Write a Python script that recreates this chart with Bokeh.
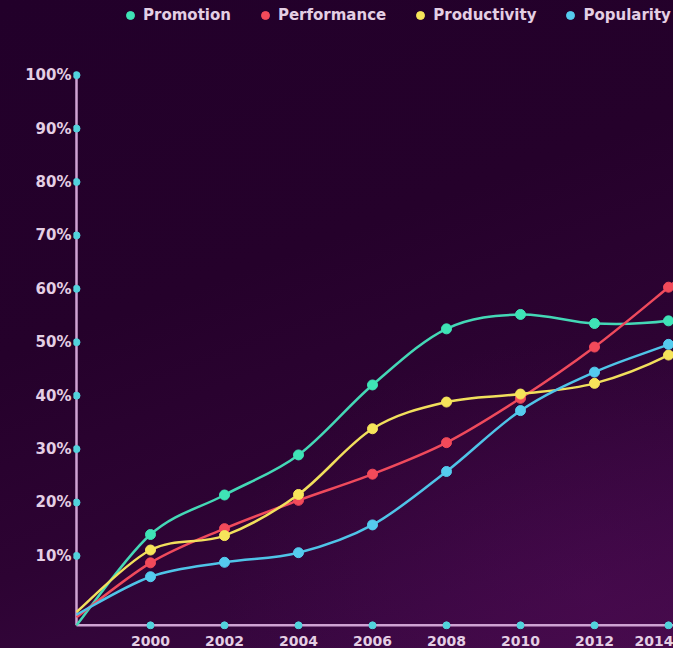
from bokeh.plotting import figure
from bokeh.models import (Range1d, FixedTicker, PrintfTickFormatter, Legend,
                          LegendItem, ColumnDataSource)
from bokeh.embed import file_html
from bokeh.resources import INLINE

# ---------------- data ----------------
years = [1998, 2000, 2002, 2004, 2006, 2008, 2010, 2012, 2014, 2016]
promotion = [-3.0, 14.0, 21.4, 28.9, 42.0, 52.5, 55.2, 53.5, 54.0, 57.0]
performance = [-1.5, 8.7, 15.1, 20.4, 25.3, 31.2, 39.5, 49.1, 60.3, 72.0]
productivity = [-0.5, 11.1, 13.8, 21.5, 33.8, 38.8, 40.3, 42.3, 47.6, 56.0]
popularity = [-1.0, 6.1, 8.8, 10.6, 15.8, 25.8, 37.2, 44.4, 49.6, 55.0]
series_names = ["Promotion", "Performance", "Productivity", "Popularity"]
x_ticks = [2000, 2002, 2004, 2006, 2008, 2010, 2012, 2014]
y_ticks = [10, 20, 30, 40, 50, 60, 70, 80, 90, 100]

# ---------------- style ----------------
BG_CSS = ("radial-gradient(ellipse 55% 40% at 88% 92%, rgba(85,12,90,0.35), rgba(85,12,90,0) 100%), "
          "linear-gradient(160deg, #22002a 0%, #25012b 40%, #2d0333 65%, #380740 85%, #420a48 100%)")
TEXT = "#e4cfe4"
AXIS = "#cfa3d3"
DOT = "#52d3dc"
FONT = "DejaVu Sans"
line_colors = ["#44d8b6", "#ef4a5c", "#f1df5c", "#4fc4e8"]
mark_colors = ["#3fe3b6", "#f24a5a", "#f6e45a", "#55cbee"]
AXIS_X = years[0]
AXIS_Y = -3.0

p = figure(width=673, height=648, output_backend="svg", toolbar_location=None,
           x_range=Range1d(1997.919, 2014.135), y_range=Range1d(-3.78, 113.97),
           min_border_left=73, min_border_right=0, min_border_top=0,
           min_border_bottom=16)
p.styles = {"background": BG_CSS}
p.background_fill_color = None
p.border_fill_color = None
p.outline_line_color = None
p.grid.visible = False

p.axis.axis_line_color = None
p.axis.major_tick_line_color = None
p.axis.minor_tick_line_color = None
p.axis.major_label_text_color = TEXT
p.axis.major_label_text_font = FONT
p.axis.major_label_text_font_style = "bold"
p.xaxis.ticker = FixedTicker(ticks=x_ticks)
p.xaxis.major_label_text_font_size = "14px"
p.xaxis.major_label_standoff = 0
p.yaxis.ticker = FixedTicker(ticks=y_ticks)
p.yaxis.formatter = PrintfTickFormatter(format="%d%%")
p.yaxis.major_label_text_font_size = "15px"
p.yaxis.major_label_standoff = -4


def bezier_segments(xs, ys):
    n = len(xs)
    out = dict(x0=[], y0=[], x1=[], y1=[], cx0=[], cy0=[], cx1=[], cy1=[])
    for i in range(n - 1):
        a = max(i - 1, 0)
        d = min(i + 2, n - 1)
        out["x0"].append(xs[i]); out["y0"].append(ys[i])
        out["x1"].append(xs[i + 1]); out["y1"].append(ys[i + 1])
        out["cx0"].append(xs[i] + (xs[i + 1] - xs[a]) / 6.0)
        out["cy0"].append(ys[i] + (ys[i + 1] - ys[a]) / 6.0)
        out["cx1"].append(xs[i + 1] - (xs[d] - xs[i]) / 6.0)
        out["cy1"].append(ys[i + 1] - (ys[d] - ys[i]) / 6.0)
    return out

# axis lines and tick dots
p.segment(x0=[AXIS_X], y0=[AXIS_Y], x1=[AXIS_X], y1=[y_ticks[-1]],
          line_color=AXIS, line_width=2.5)
p.segment(x0=[AXIS_X], y0=[AXIS_Y], x1=[years[-1]], y1=[AXIS_Y],
          line_color=AXIS, line_width=2.5)
p.scatter(x=[AXIS_X] * len(y_ticks), y=y_ticks, size=7, color=DOT)
p.scatter(x=x_ticks, y=[AXIS_Y] * len(x_ticks), size=7, color=DOT)

items = []
all_series = [promotion, performance, productivity, popularity]
for name, vals, lc, mc in zip(series_names, all_series, line_colors, mark_colors):
    seg = ColumnDataSource(bezier_segments(years, vals))
    p.bezier(x0="x0", y0="y0", x1="x1", y1="y1", cx0="cx0", cy0="cy0",
             cx1="cx1", cy1="cy1", source=seg, line_color=lc, line_width=2.5)
    r = p.scatter(x=years[1:-1], y=vals[1:-1], size=10, fill_color=mc,
                  line_color=mc)
    items.append(LegendItem(label=name, renderers=[r]))

legend = Legend(items=items, orientation="horizontal", location=(45, 604),
                glyph_width=24, glyph_height=20, label_standoff=1, spacing=22,
                padding=0, margin=0, background_fill_alpha=0,
                border_line_alpha=0, label_text_color=TEXT,
                label_text_font=FONT, label_text_font_style="bold",
                label_text_font_size="15px", label_height=20)
p.add_layout(legend)

open("out.html", "w").write(file_html(p, INLINE))
